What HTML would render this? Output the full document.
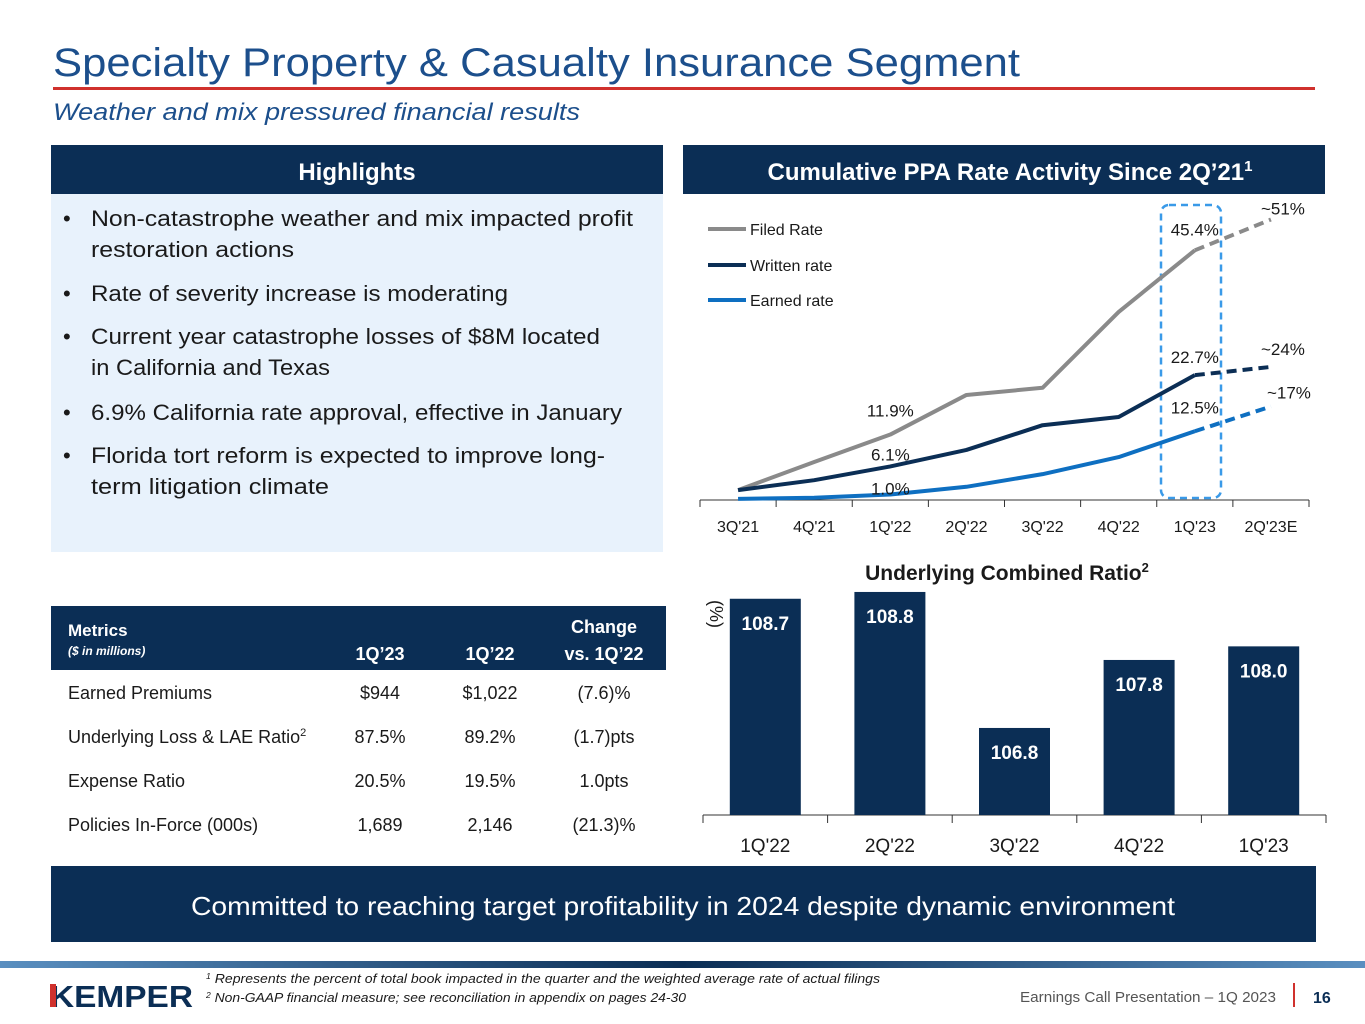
<!DOCTYPE html>
<html><head><meta charset="utf-8"><style>
html,body{margin:0;padding:0;background:#fff}
svg{display:block;font-family:"Liberation Sans",sans-serif}
</style></head><body>
<svg id="s" width="1365" height="1024" viewBox="0 0 1365 1024">
<defs>
<linearGradient id="fb" x1="0" x2="1"><stop offset="0" stop-color="#5a8fc0"/><stop offset="0.5" stop-color="#0b2e55"/><stop offset="1" stop-color="#5a8fc0"/></linearGradient>
</defs>
<text x="53" y="76" font-size="40" fill="#1c4f8c" textLength="967" lengthAdjust="spacingAndGlyphs">Specialty Property &amp; Casualty Insurance Segment</text>
<rect x="53" y="87" width="1262" height="3" fill="#d0312d"/>
<text x="53" y="120" font-size="24" font-style="italic" fill="#1c4f8c" textLength="527" lengthAdjust="spacingAndGlyphs">Weather and mix pressured financial results</text>

<g>
<rect x="51" y="145" width="612" height="49" fill="#0b2e55"/>
<text x="357" y="180" font-size="24" font-weight="bold" fill="#fff" text-anchor="middle">Highlights</text>
<rect x="51" y="194" width="612" height="358" fill="#e8f2fc"/>
<g font-size="22" fill="#1a1a1a">
<text x="63" y="226">•</text><text x="91" y="226" textLength="542" lengthAdjust="spacingAndGlyphs">Non-catastrophe weather and mix impacted profit</text>
<text x="91" y="257" textLength="203" lengthAdjust="spacingAndGlyphs">restoration actions</text>
<text x="63" y="301">•</text><text x="91" y="301" textLength="417" lengthAdjust="spacingAndGlyphs">Rate of severity increase is moderating</text>
<text x="63" y="344">•</text><text x="91" y="344" textLength="509" lengthAdjust="spacingAndGlyphs">Current year catastrophe losses of $8M located</text>
<text x="91" y="375" textLength="239" lengthAdjust="spacingAndGlyphs">in California and Texas</text>
<text x="63" y="420">•</text><text x="91" y="420" textLength="531" lengthAdjust="spacingAndGlyphs">6.9% California rate approval, effective in January</text>
<text x="63" y="463">•</text><text x="91" y="463" textLength="514" lengthAdjust="spacingAndGlyphs">Florida tort reform is expected to improve long-</text>
<text x="91" y="494" textLength="238" lengthAdjust="spacingAndGlyphs">term litigation climate</text>
</g>
</g>

<rect x="683" y="145" width="642" height="49" fill="#0b2e55"/>
<text x="1010" y="180" font-size="24" font-weight="bold" fill="#fff" text-anchor="middle">Cumulative PPA Rate Activity Since 2Q’21<tspan font-size="15" dy="-9">1</tspan></text>
<g id="lineChart"></g>

<g>
<rect x="51" y="606" width="615" height="64" fill="#0b2e55"/>
<g fill="#fff" font-weight="bold">
<text x="68" y="636" font-size="17">Metrics</text>
<text x="68" y="655" font-size="12" font-style="italic">($ in millions)</text>
<text x="380" y="660" font-size="18" text-anchor="middle">1Q’23</text>
<text x="490" y="660" font-size="18" text-anchor="middle">1Q’22</text>
<text x="604" y="633" font-size="18" text-anchor="middle">Change</text>
<text x="604" y="660" font-size="18" text-anchor="middle">vs. 1Q’22</text>
</g>
<g font-size="18" fill="#1a1a1a">
<text x="68" y="699">Earned Premiums</text><text x="380" y="699" text-anchor="middle">$944</text><text x="490" y="699" text-anchor="middle">$1,022</text><text x="604" y="699" text-anchor="middle">(7.6)%</text>
<text x="68" y="743">Underlying Loss &amp; LAE Ratio<tspan font-size="11" dy="-7">2</tspan></text><text x="380" y="743" text-anchor="middle">87.5%</text><text x="490" y="743" text-anchor="middle">89.2%</text><text x="604" y="743" text-anchor="middle">(1.7)pts</text>
<text x="68" y="787">Expense Ratio</text><text x="380" y="787" text-anchor="middle">20.5%</text><text x="490" y="787" text-anchor="middle">19.5%</text><text x="604" y="787" text-anchor="middle">1.0pts</text>
<text x="68" y="831">Policies In-Force (000s)</text><text x="380" y="831" text-anchor="middle">1,689</text><text x="490" y="831" text-anchor="middle">2,146</text><text x="604" y="831" text-anchor="middle">(21.3)%</text>
</g>
</g>

<text x="1007" y="580" font-size="21" font-weight="bold" fill="#1a1a1a" text-anchor="middle">Underlying Combined Ratio<tspan font-size="13" dy="-8">2</tspan></text>
<text transform="translate(710,614) rotate(90)" font-size="18" fill="#1a1a1a" text-anchor="middle">(%)</text>
<g id="barChart"></g>

<rect x="51" y="866" width="1265" height="76" fill="#0b2e55"/>
<text x="683" y="915" font-size="26" fill="#fff" text-anchor="middle" textLength="984" lengthAdjust="spacingAndGlyphs">Committed to reaching target profitability in 2024 despite dynamic environment</text>

<rect x="0" y="961" width="1365" height="7" fill="url(#fb)"/>
<g>
<text x="50" y="1007" font-size="31" font-weight="bold" fill="#0b2e55" textLength="143" lengthAdjust="spacingAndGlyphs">KEMPER</text>
<rect x="50" y="984" width="6" height="23" fill="#d0312d"/>
</g>
<g font-size="13" font-style="italic" fill="#1a1a1a">
<text x="206" y="983" textLength="674" lengthAdjust="spacingAndGlyphs"><tspan font-size="8" dy="-4">1</tspan><tspan dy="4"> Represents the percent of total book impacted in the quarter and the weighted average rate of actual filings</tspan></text>
<text x="206" y="1002" textLength="480" lengthAdjust="spacingAndGlyphs"><tspan font-size="8" dy="-4">2</tspan><tspan dy="4"> Non-GAAP financial measure; see reconciliation in appendix on pages 24-30</tspan></text>
</g>
<text x="1020" y="1002" font-size="15" fill="#555" textLength="256" lengthAdjust="spacingAndGlyphs">Earnings Call Presentation – 1Q 2023</text>
<rect x="1293" y="983" width="2" height="24" fill="#d0312d"/>
<text x="1313" y="1003" font-size="16" font-weight="bold" fill="#0b2e55">16</text>
</svg>
<script>
const NS="http://www.w3.org/2000/svg";
const quarters=["3Q'21","4Q'21","1Q'22","2Q'22","3Q'22","4Q'22","1Q'23","2Q'23E"];
const filedRate=[1.8,6.9,11.9,19.1,20.4,34.2,45.4,51];
const writtenRate=[1.8,3.6,6.1,9.1,13.6,15.1,22.7,24.2];
const earnedRate=[0.2,0.4,1.0,2.4,4.7,7.8,12.5,17];
const filedLabels=[null,null,"11.9%",null,null,null,"45.4%","~51%"];
const writtenLabels=[null,null,"6.1%",null,null,null,"22.7%","~24%"];
const earnedLabels=[null,null,"1.0%",null,null,null,"12.5%","~17%"];
const barCategories=["1Q'22","2Q'22","3Q'22","4Q'22","1Q'23"];
const barValues=[108.7,108.8,106.8,107.8,108.0];

function mk(tag,attrs,parent){const e=document.createElementNS(NS,tag);for(const k in attrs)e.setAttribute(k,attrs[k]);parent.appendChild(e);return e;}

// line chart
const lc=document.getElementById('lineChart');
const lx0=700,lx1=1309,ly0=500,lyScale=5.5;
const band=(lx1-lx0)/quarters.length;
const lxs=i=>lx0+band*(i+0.5);
const lys=v=>ly0-v*lyScale;
const axis=mk('line',{x1:lx0,x2:lx1,y1:ly0,y2:ly0,stroke:'#333','stroke-width':1},lc);


for(let i=0;i<=quarters.length;i++){
  const t=mk('line',{x1:lx0+band*i,x2:lx0+band*i,y1:ly0,y2:ly0+7,stroke:'#333'},lc);
  
  
}
quarters.forEach((q,i)=>{
  const t=mk('text',{x:lxs(i),y:532,'font-size':16,fill:'#1a1a1a','text-anchor':'middle'},lc);t.textContent=q;
  
  
});
const box=mk('rect',{x:1161,y:205,width:60,height:293,rx:8,fill:'none',stroke:'#3a9ae8','stroke-width':2.5,'stroke-dasharray':'7,5'},lc);


// label offsets (style): [mid-label dy, 1Q'23 dy, final dx, final dy]
const series=[[filedRate,'#8a8a8a','filed-rate',filedLabels,[-18,-15,12,-5]],[writtenRate,'#0b2e55','written-rate',writtenLabels,[-6,-12,12,-12]],[earnedRate,'#0e6fc1','earned-rate',earnedLabels,[0,-18,18,-8]]];
series.forEach(([d,c,n,labs,off])=>{
  const n1=d.length-1;
  const solid=d.slice(0,n1).map((v,i)=>lxs(i)+','+lys(v)).join(' ');
  const pl=mk('polyline',{points:solid,fill:'none',stroke:c,'stroke-width':4,'stroke-linejoin':'round'},lc);
  
  
  const ds=mk('line',{x1:lxs(n1-1),y1:lys(d[n1-1]),x2:lxs(n1),y2:lys(d[n1]),stroke:c,'stroke-width':4,'stroke-dasharray':'10,6'},lc);
  
  
  labs.forEach((l,i)=>{
    if(!l)return;
    const o=i===n1?[off[2],off[3]]:(i===n1-1?[0,off[1]]:[0,off[0]]);
    const t=mk('text',{x:lxs(i)+o[0],y:lys(d[i])+o[1],'font-size':17,fill:'#1a1a1a','text-anchor':'middle'},lc);t.textContent=l;
    
    
  });
});
[['Filed Rate','#8a8a8a',229],['Written rate','#0b2e55',265],['Earned rate','#0e6fc1',300]].forEach(([l,c,y])=>{
  const g=mk('g',{},lc);
  
  
  mk('line',{x1:708,x2:746,y1:y,y2:y,stroke:c,'stroke-width':4},g);
  const t=mk('text',{x:750,y:y+6,'font-size':16,fill:'#1a1a1a'},g);t.textContent=l;
});

// bar chart
const bc=document.getElementById('barChart');
const bx0=703,bx1=1326,by0=815,bBase=105.52,bScale=68;
const bband=(bx1-bx0)/barCategories.length;
const bxs=i=>bx0+bband*(i+0.5);
const bys=v=>by0-(v-bBase)*bScale;
const ba=mk('line',{x1:bx0,x2:bx1,y1:by0,y2:by0,stroke:'#333'},bc);


for(let i=0;i<=barCategories.length;i++){
  const t=mk('line',{x1:bx0+bband*i,x2:bx0+bband*i,y1:by0,y2:by0+8,stroke:'#333'},bc);
  
  
}
barValues.forEach((v,i)=>{
  const r=mk('rect',{x:bxs(i)-35.5,y:bys(v),width:71,height:by0-bys(v),fill:'#0b2e55'},bc);
  
  
  const t=mk('text',{x:bxs(i),y:bys(v)+31,'font-size':19,'font-weight':'bold',fill:'#fff','text-anchor':'middle'},bc);t.textContent=v.toFixed(1);
  
  
  const c=mk('text',{x:bxs(i),y:852,'font-size':19,fill:'#1a1a1a','text-anchor':'middle'},bc);c.textContent=barCategories[i];
  
  
});
</script>
</body></html>
